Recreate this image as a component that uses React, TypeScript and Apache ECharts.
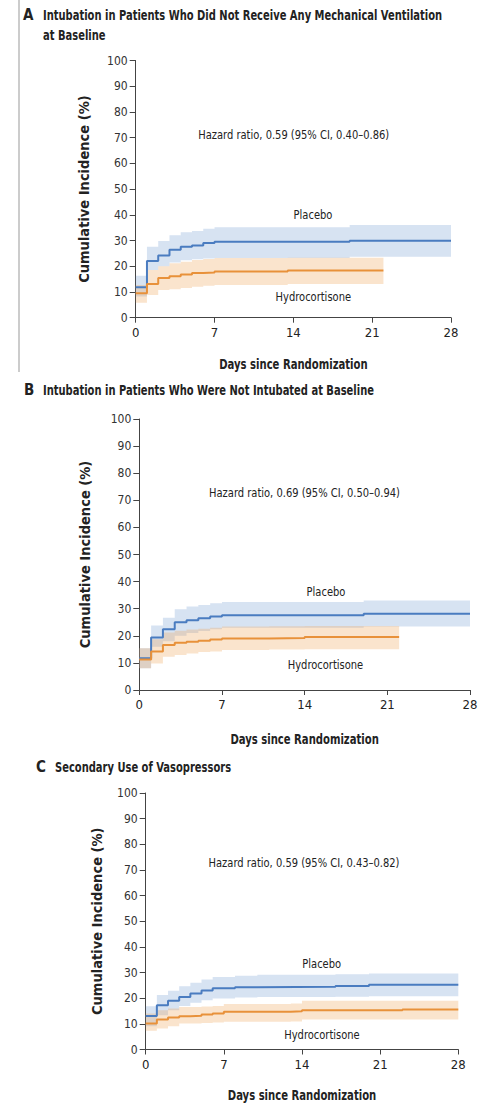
import React, { useEffect, useRef } from "react";
import * as echarts from "echarts";

const FONT = "'DejaVu Sans Condensed', 'DejaVu Sans', sans-serif";

const yTicks = [0, 10, 20, 30, 40, 50, 60, 70, 80, 90, 100];
const xTicks = [0, 7, 14, 21, 28];

// Panel A
const aPlaceboDays = [0, 1, 2, 3, 4, 5, 6, 7, 19, 28];
const aPlaceboEst = [11.8, 22.0, 24.2, 26.4, 27.6, 28.1, 29.0, 29.5, 29.9, 29.9];
const aPlaceboHi = [16.3, 27.6, 29.8, 32.1, 33.2, 33.7, 34.6, 35.2, 36.0, 36.0];
const aPlaceboLo = [8.2, 18.5, 20.0, 21.5, 22.3, 22.7, 23.0, 23.2, 23.7, 23.7];
const aHydroDays = [0, 1, 2, 3, 4, 5, 6, 7, 13.5, 22];
const aHydroEst = [9.5, 13.1, 15.4, 16.1, 16.8, 17.4, 17.6, 18.0, 18.4, 18.4];
const aHydroHi = [12.7, 18.5, 20.0, 21.2, 21.8, 22.4, 22.8, 23.2, 23.3, 23.3];
const aHydroLo = [5.8, 8.8, 10.8, 11.1, 11.5, 12.0, 12.4, 12.7, 13.1, 13.1];

// Panel B
const bPlaceboDays = [0, 1, 2, 3, 4, 5, 6, 7, 19, 28];
const bPlaceboEst = [11.7, 19.4, 22.4, 25.0, 25.7, 26.5, 27.1, 27.6, 28.1, 28.1];
const bPlaceboHi = [15.4, 23.8, 26.7, 29.8, 30.8, 31.4, 32.0, 32.5, 33.0, 33.0];
const bPlaceboLo = [8.0, 16.0, 18.0, 20.0, 21.0, 21.8, 22.4, 23.0, 23.4, 23.4];
const bHydroDays = [0, 1, 2, 3, 4, 5, 6, 7, 11, 14, 22];
const bHydroEst = [11.3, 14.2, 16.6, 17.4, 17.8, 18.2, 18.6, 19.0, 19.2, 19.6, 19.6];
const bHydroHi = [15.4, 18.7, 21.2, 21.9, 22.3, 22.6, 23.0, 23.4, 23.5, 23.6, 23.6];
const bHydroLo = [8.0, 9.8, 12.3, 12.9, 13.5, 14.0, 14.2, 14.8, 14.9, 15.0, 15.0];

// Panel C
const cPlaceboDays = [0, 1, 2, 3, 4, 5, 6, 8, 10, 17, 20, 28];
const cPlaceboEst = [13.1, 17.3, 19.0, 20.5, 21.8, 23.0, 23.9, 24.3, 24.5, 24.8, 25.2, 25.2];
const cPlaceboHi = [16.9, 21.2, 22.9, 24.7, 26.0, 27.3, 28.3, 28.8, 29.1, 29.3, 29.6, 29.6];
const cPlaceboLo = [9.1, 13.4, 15.3, 17.0, 18.2, 19.2, 19.9, 20.3, 20.5, 20.6, 20.8, 20.8];
const cHydroDays = [0, 1, 2, 3, 4, 5, 6, 7, 13, 14, 23, 28];
const cHydroEst = [10.1, 11.7, 12.5, 13.0, 13.2, 13.6, 14.0, 14.7, 14.9, 15.3, 15.6, 15.6];
const cHydroHi = [14.0, 15.3, 16.0, 16.6, 16.6, 16.8, 17.0, 17.7, 17.9, 19.0, 19.0, 19.0];
const cHydroLo = [7.3, 8.2, 9.1, 10.1, 10.1, 10.3, 10.5, 10.8, 10.9, 11.7, 11.7, 11.7];

const panelLetters = ["A", "B", "C"];
const titles = [
  "Intubation in Patients Who Did Not Receive Any Mechanical Ventilation",
  "Intubation in Patients Who Were Not Intubated at Baseline",
  "Secondary Use of Vasopressors",
];
const titleLine2 = "at Baseline";
const hazardTexts = [
  "Hazard ratio, 0.59 (95% CI, 0.40\u20130.86)",
  "Hazard ratio, 0.69 (95% CI, 0.50\u20130.94)",
  "Hazard ratio, 0.59 (95% CI, 0.43\u20130.82)",
];
const groupNames = ["Placebo", "Hydrocortisone"];
const xAxisTitle = "Days since Randomization";
const yAxisTitle = "Cumulative Incidence (%)";

const BLUE = "#4a7cc0";
const ORANGE = "#e8913a";
const BLUE_BAND = "rgba(122,162,212,0.3)";
const ORANGE_BAND = "rgba(238,165,88,0.3)";

const grids = [
  { left: 135.7, top: 60.5, width: 315.3, height: 257.2 },
  { left: 139.3, top: 419, width: 330.7, height: 271 },
  { left: 145.7, top: 793, width: 312.6, height: 256.5 },
];
const yNameGaps = [44, 47, 41];

function bandSeries(idx: number, days: number[], lo: number[], hi: number[], color: string) {
  return {
    type: "custom",
    xAxisIndex: idx,
    yAxisIndex: idx,
    data: [[0, 0]],
    silent: true,
    z: 1,
    renderItem: (_p: any, api: any) => {
      const pts: number[][] = [];
      for (let i = 0; i < days.length - 1; i++) {
        pts.push(api.coord([days[i], hi[i]]));
        pts.push(api.coord([days[i + 1], hi[i]]));
      }
      for (let i = days.length - 2; i >= 0; i--) {
        pts.push(api.coord([days[i + 1], lo[i]]));
        pts.push(api.coord([days[i], lo[i]]));
      }
      return { type: "polygon", shape: { points: pts }, style: { fill: color } };
    },
  };
}

function lineSeries(idx: number, days: number[], est: number[], color: string) {
  return {
    type: "line",
    xAxisIndex: idx,
    yAxisIndex: idx,
    step: "end",
    showSymbol: false,
    symbol: "none",
    z: 3,
    lineStyle: { color, width: 2 },
    data: days.map((d, i) => [d, est[i]]),
  };
}

export default function App() {
  const ref = useRef<HTMLDivElement>(null);
  useEffect(() => {
    if (!ref.current) return;
    const chart = echarts.init(ref.current, undefined, { renderer: "svg" });
    const axisColor = "#444";
    const textColor = "#222";
    const xAxes = grids.map((_, i) => ({
      type: "value",
      gridIndex: i,
      min: 0,
      max: 28,
      interval: 7,
      axisLine: { show: true, lineStyle: { color: axisColor, width: 1 } },
      axisTick: { show: true, length: 5, lineStyle: { color: axisColor } },
      axisLabel: {
        fontFamily: FONT,
        fontSize: 13,
        color: textColor,
        margin: 8,
        formatter: (v: number) => (xTicks.includes(v) ? String(v) : ""),
      },
      splitLine: { show: false },
    }));
    const yAxes = grids.map((_, i) => ({
      type: "value",
      gridIndex: i,
      min: 0,
      max: 100,
      interval: 10,
      name: yAxisTitle,
      nameLocation: "middle",
      nameGap: yNameGaps[i],
      nameTextStyle: { fontFamily: FONT, fontSize: 14.5, fontWeight: "bold", color: textColor },
      axisLine: { show: true, lineStyle: { color: axisColor, width: 1 } },
      axisTick: { show: true, length: 6, lineStyle: { color: axisColor } },
      axisLabel: {
        fontFamily: FONT,
        fontSize: 12,
        color: "#333",
        margin: 8,
        formatter: (v: number) => (yTicks.includes(v) ? String(v) : ""),
      },
      splitLine: { show: false },
    }));

    const txt = (
      x: number,
      y: number,
      text: string,
      size: number,
      bold: boolean,
      align: string,
      sx: number
    ) => ({
      type: "text",
      x,
      y,
      scaleX: sx,
      silent: true,
      style: {
        text,
        fill: textColor,
        font: `${bold ? "bold " : ""}${size}px ${FONT}`,
        textAlign: align,
        textVerticalAlign: "middle",
      },
    });

    const T = 0.79;
    const R = 0.85;
    const graphic: any[] = [
      { type: "line", shape: { x1: 19, y1: 0, x2: 19, y2: 372 }, style: { stroke: "#999", lineWidth: 1 } },
      txt(23, 15, panelLetters[0], 15, true, "left", 1),
      txt(43, 15, titles[0], 14, true, "left", T),
      txt(43, 35, titleLine2, 14, true, "left", T),
      txt(24, 390, panelLetters[1], 15, true, "left", 1),
      txt(43, 390, titles[1], 14, true, "left", T),
      txt(36, 767, panelLetters[2], 15, true, "left", 1),
      txt(55, 767, titles[2], 14, true, "left", T),
      txt(293.7, 135, hazardTexts[0], 13, false, "center", R),
      txt(304.5, 493, hazardTexts[1], 13, false, "center", R),
      txt(304, 863, hazardTexts[2], 13, false, "center", R),
      txt(313, 215, groupNames[0], 13, false, "center", R),
      txt(313.3, 297, groupNames[1], 13, false, "center", R),
      txt(326, 591.5, groupNames[0], 13, false, "center", R),
      txt(325.5, 665, groupNames[1], 13, false, "center", R),
      txt(321.7, 963.3, groupNames[0], 13, false, "center", R),
      txt(322, 1035, groupNames[1], 13, false, "center", R),
      txt(293.4, 364, xAxisTitle, 14, true, "center", 0.8),
      txt(304.6, 739, xAxisTitle, 14, true, "center", 0.8),
      txt(302, 1095, xAxisTitle, 14, true, "center", 0.8),
    ];

    chart.setOption({
      animation: false,
      backgroundColor: "#fff",
      grid: grids.map((g) => ({ ...g, containLabel: false })),
      xAxis: xAxes,
      yAxis: yAxes,
      graphic,
      series: [
        bandSeries(0, aPlaceboDays, aPlaceboLo, aPlaceboHi, BLUE_BAND),
        bandSeries(0, aHydroDays, aHydroLo, aHydroHi, ORANGE_BAND),
        lineSeries(0, aPlaceboDays, aPlaceboEst, BLUE),
        lineSeries(0, aHydroDays, aHydroEst, ORANGE),
        bandSeries(1, bPlaceboDays, bPlaceboLo, bPlaceboHi, BLUE_BAND),
        bandSeries(1, bHydroDays, bHydroLo, bHydroHi, ORANGE_BAND),
        lineSeries(1, bPlaceboDays, bPlaceboEst, BLUE),
        lineSeries(1, bHydroDays, bHydroEst, ORANGE),
        bandSeries(2, cPlaceboDays, cPlaceboLo, cPlaceboHi, BLUE_BAND),
        bandSeries(2, cHydroDays, cHydroLo, cHydroHi, ORANGE_BAND),
        lineSeries(2, cPlaceboDays, cPlaceboEst, BLUE),
        lineSeries(2, cHydroDays, cHydroEst, ORANGE),
      ],
    });
    return () => chart.dispose();
  }, []);
  return (
    <div
      ref={ref}
      style={{ position: "absolute", left: 0, top: 0, width: 487, height: 1103, background: "#fff" }}
    />
  );
}
